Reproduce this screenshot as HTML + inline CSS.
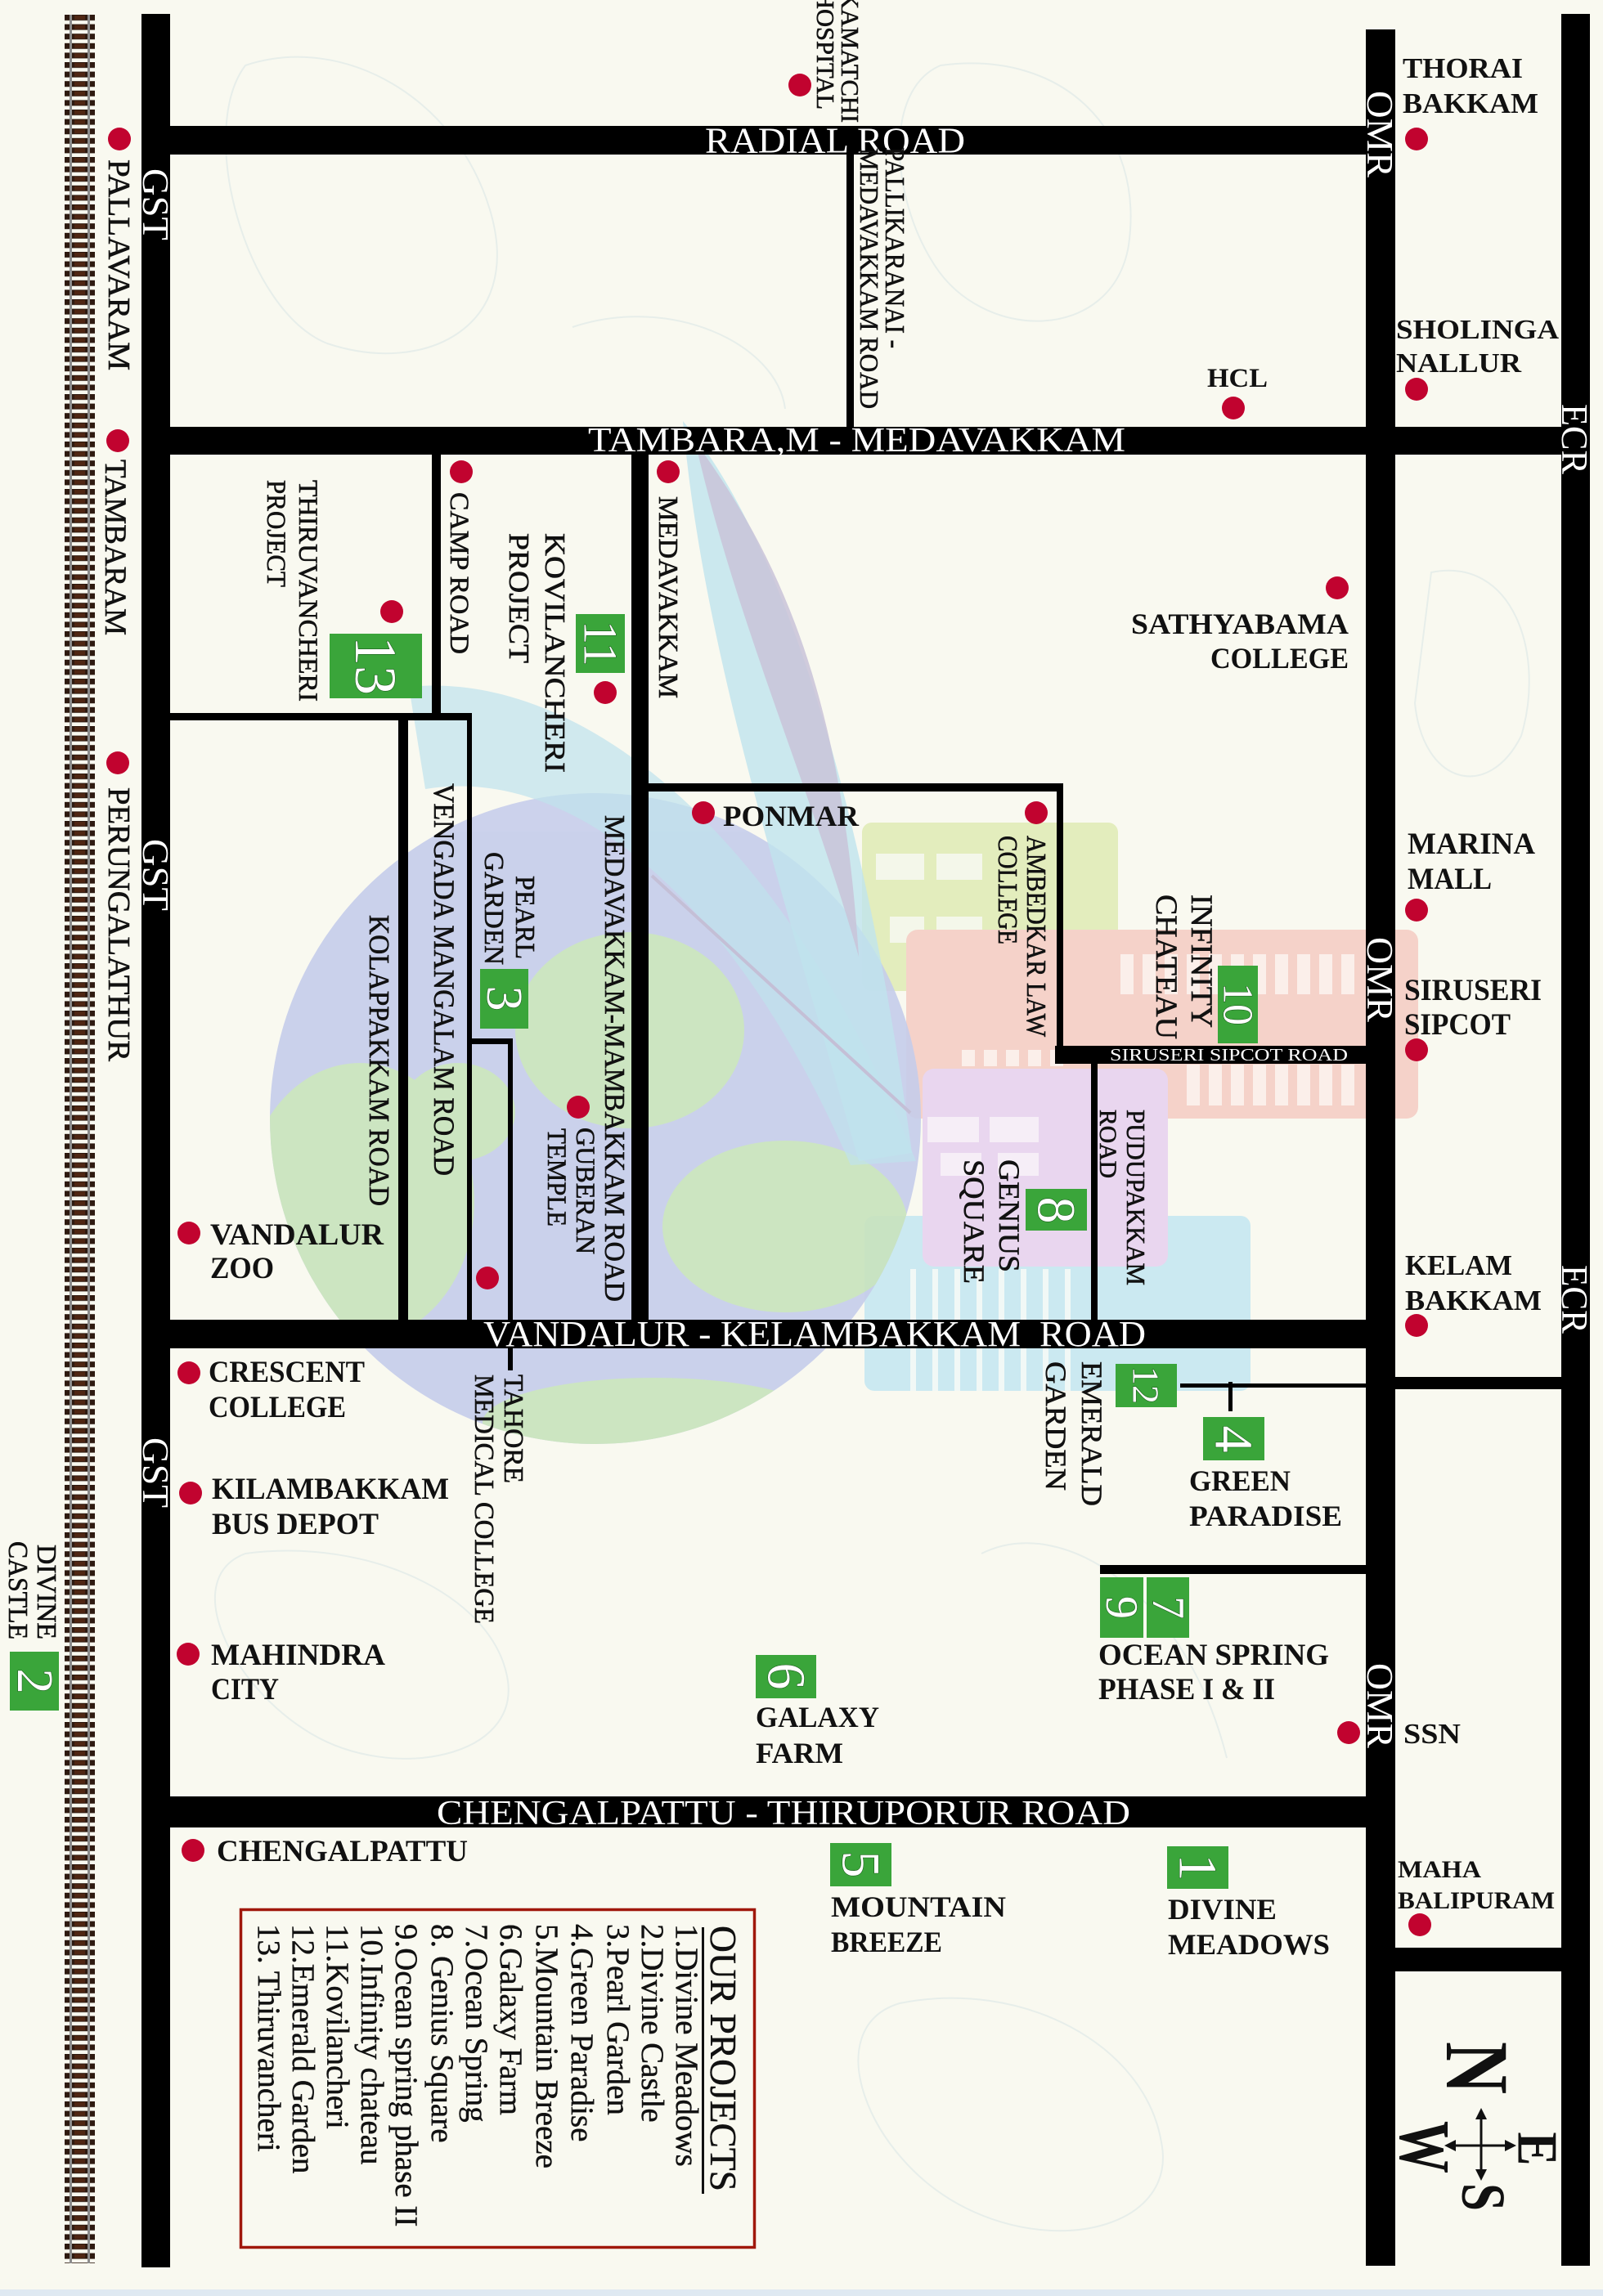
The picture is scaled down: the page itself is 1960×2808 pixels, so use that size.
<!DOCTYPE html>
<html><head><meta charset="utf-8"><style>html,body{margin:0;padding:0;background:#f9f9f0}svg{display:block}</style></head><body>
<svg width="1960" height="2808" viewBox="0 0 1960 2808" xmlns="http://www.w3.org/2000/svg" font-family="'Liberation Serif', serif">
<defs>
<pattern id="ties" x="79" y="18" width="40" height="11.6" patternUnits="userSpaceOnUse"><rect x="0" y="0" width="37" height="7" fill="#2e1a10"/><rect x="12" y="1" width="13" height="5" fill="#4f2613"/></pattern>
<clipPath id="globe"><circle cx="728" cy="1368" r="398"/></clipPath>
</defs>
<rect x="0" y="0" width="1960" height="2808" fill="#f9f9f0"/>
<rect x="0" y="2800" width="1960" height="8" fill="#dfe9f2"/>
<g fill="none" stroke="#e7eeea" stroke-width="2">
<path d="M300 80 C420 40 560 120 600 260 C640 400 520 460 400 420 C300 380 240 160 300 80Z"/>
<path d="M1150 80 C1300 60 1400 160 1380 300 C1360 420 1200 420 1140 320 C1090 240 1080 110 1150 80Z"/>
<path d="M1750 700 C1850 680 1890 800 1860 900 C1820 980 1740 960 1730 860Z"/>
<path d="M300 1900 C450 1880 600 1950 620 2050 C640 2150 480 2180 380 2120 C280 2060 220 1930 300 1900Z"/>
<path d="M1100 2450 C1250 2420 1400 2500 1420 2620 C1440 2720 1300 2760 1180 2700 C1060 2640 1000 2480 1100 2450Z"/>
<path d="M700 400 C820 360 950 420 960 500"/>
<path d="M1200 1900 C1300 1850 1450 1950 1500 2150"/>
</g>
<!-- background logo -->
<g>
<rect x="1054" y="1006" width="313" height="206" rx="12" fill="#e3edbd"/>
<g fill="#f4f7ea"><rect x="1071" y="1044" width="59" height="32"/><rect x="1145" y="1044" width="56" height="32"/><rect x="1088" y="1121" width="42" height="32"/><rect x="1145" y="1121" width="56" height="32"/></g>
<rect x="1108" y="1137" width="626" height="231" rx="14" fill="#f5d2c9"/>
<g fill="#fbefea">
<rect x="1370" y="1167" width="16" height="49"/><rect x="1397" y="1167" width="16" height="49"/><rect x="1424" y="1167" width="16" height="49"/><rect x="1451" y="1167" width="16" height="49"/><rect x="1478" y="1167" width="16" height="49"/><rect x="1505" y="1167" width="16" height="49"/><rect x="1532" y="1167" width="16" height="49"/><rect x="1559" y="1167" width="16" height="49"/><rect x="1586" y="1167" width="16" height="49"/><rect x="1613" y="1167" width="16" height="49"/><rect x="1640" y="1167" width="16" height="49"/>
<rect x="1176" y="1284" width="16" height="20"/><rect x="1203" y="1284" width="16" height="20"/><rect x="1230" y="1284" width="16" height="20"/><rect x="1257" y="1284" width="16" height="20"/><rect x="1284" y="1284" width="16" height="20"/>
<rect x="1451" y="1302" width="16" height="50"/><rect x="1478" y="1302" width="16" height="50"/><rect x="1505" y="1302" width="16" height="50"/><rect x="1532" y="1302" width="16" height="50"/><rect x="1559" y="1302" width="16" height="50"/><rect x="1586" y="1302" width="16" height="50"/><rect x="1613" y="1302" width="16" height="50"/><rect x="1640" y="1302" width="16" height="50"/>
</g>
<rect x="1057" y="1487" width="472" height="214" rx="12" fill="#cbe9f1"/>
<g fill="#f1f8f6"><rect x="1113" y="1552" width="7" height="149"/><rect x="1140" y="1552" width="7" height="149"/><rect x="1167" y="1552" width="7" height="149"/><rect x="1194" y="1552" width="7" height="149"/><rect x="1221" y="1552" width="7" height="149"/><rect x="1248" y="1552" width="7" height="149"/><rect x="1275" y="1552" width="7" height="149"/><rect x="1302" y="1552" width="7" height="149"/></g>
<rect x="1128" y="1307" width="300" height="242" rx="14" fill="#e9d6ef"/>
<g fill="#f6eef7"><rect x="1134" y="1366" width="63" height="31"/><rect x="1210" y="1366" width="60" height="31"/><rect x="1150" y="1410" width="50" height="28"/><rect x="1220" y="1410" width="50" height="28"/></g>
<g opacity="0.9">
<circle cx="728" cy="1368" r="398" fill="#c6cdeb"/>
<g clip-path="url(#globe)" fill="#c8e3bd">
<ellipse cx="440" cy="1470" rx="140" ry="170"/>
<ellipse cx="770" cy="1260" rx="140" ry="120"/>
<ellipse cx="960" cy="1500" rx="150" ry="105"/>
<ellipse cx="800" cy="1740" rx="210" ry="55"/>
<ellipse cx="560" cy="1360" rx="70" ry="60"/>
</g>
</g>
<path d="M500 840 C700 820 950 1000 1120 1420 L1040 1425 C900 1100 700 935 520 965 Z" fill="#bfe3ed" opacity="0.7"/>
<path d="M835 515 C960 660 1060 1000 1115 1410 L1050 1420 C960 1100 860 800 835 515 Z" fill="#bfe3ed" opacity="0.8"/>
<path d="M850 540 C960 690 1030 860 1050 1170 C990 960 900 760 850 540 Z" fill="#c9c3d8" opacity="0.85"/>
<path d="M797 1071 L1113 1361" stroke="#c4bfd6" stroke-width="4" fill="none"/>
</g>
<!-- railway -->
<rect x="79" y="18" width="37" height="2750" fill="url(#ties)"/>
<rect x="85" y="18" width="3" height="2750" fill="#8c8c8c"/>
<rect x="107" y="18" width="3" height="2750" fill="#8c8c8c"/>
<!-- roads -->
<g fill="#000">
<rect x="173" y="17" width="35" height="2756"/>
<rect x="1670" y="36" width="36" height="2735"/>
<rect x="1909" y="17" width="35" height="2754"/>
<rect x="208" y="154" width="1462" height="35"/>
<rect x="208" y="522" width="1701" height="34"/>
<rect x="208" y="1614" width="1462" height="35"/>
<rect x="208" y="2197" width="1462" height="38"/>
<rect x="1035" y="189" width="9" height="333"/>
<rect x="528" y="556" width="11" height="325"/>
<rect x="208" y="872" width="369" height="9"/>
<rect x="487" y="881" width="12" height="733"/>
<rect x="571" y="872" width="6" height="742"/>
<rect x="571" y="1270" width="56" height="7"/>
<rect x="621" y="1270" width="6" height="406"/>
<rect x="772" y="556" width="21" height="1058"/>
<rect x="793" y="958" width="507" height="10"/>
<rect x="1292" y="958" width="8" height="330"/>
<rect x="1290" y="1279" width="380" height="22"/>
<rect x="1334" y="1301" width="8" height="313"/>
<rect x="1706" y="1684" width="203" height="15"/>
<rect x="1443" y="1692" width="227" height="5"/>
<rect x="1502" y="1690" width="5" height="36"/>
<rect x="1345" y="1914" width="325" height="11"/>
<rect x="1706" y="2382" width="203" height="29"/>
</g>
<!-- road labels -->
<g fill="#fff">
<text x="862" y="186.5" font-size="44" textLength="318" lengthAdjust="spacingAndGlyphs">RADIAL ROAD</text>
<text x="719" y="552" font-size="42" textLength="657" lengthAdjust="spacingAndGlyphs">TAMBARA,M - MEDAVAKKAM</text>
<text x="591" y="1646" font-size="44" textLength="810" lengthAdjust="spacingAndGlyphs">VANDALUR - KELAMBAKKAM &#160;ROAD</text>
<text x="534" y="2231" font-size="42" textLength="848" lengthAdjust="spacingAndGlyphs">CHENGALPATTU - THIRUPORUR ROAD</text>
<text x="1357" y="1297" font-size="21" textLength="291" lengthAdjust="spacingAndGlyphs">SIRUSERI SIPCOT ROAD</text>
<text transform="translate(175 206) rotate(90)" font-size="46" textLength="88" lengthAdjust="spacingAndGlyphs">GST</text>
<text transform="translate(175 1026) rotate(90)" font-size="46" textLength="88" lengthAdjust="spacingAndGlyphs">GST</text>
<text transform="translate(175 1758) rotate(90)" font-size="46" textLength="86" lengthAdjust="spacingAndGlyphs">GST</text>
<text transform="translate(1672 111) rotate(90)" font-size="46" textLength="106" lengthAdjust="spacingAndGlyphs">OMR</text>
<text transform="translate(1672 1146) rotate(90)" font-size="46" textLength="104" lengthAdjust="spacingAndGlyphs">OMR</text>
<text transform="translate(1672 2034) rotate(90)" font-size="46" textLength="104" lengthAdjust="spacingAndGlyphs">OMR</text>
<text transform="translate(1910 494) rotate(90)" font-size="45" textLength="86" lengthAdjust="spacingAndGlyphs">ECR</text>
<text transform="translate(1910 1547) rotate(90)" font-size="45" textLength="84" lengthAdjust="spacingAndGlyphs">ECR</text>
</g>
<!-- rotated place labels -->
<g fill="#111" stroke="#111" stroke-width="0.6">
<text transform="translate(133 195) rotate(90)" font-size="38" textLength="258" lengthAdjust="spacingAndGlyphs">PALLAVARAM</text>
<text transform="translate(129 562) rotate(90)" font-size="37" textLength="215" lengthAdjust="spacingAndGlyphs">TAMBARAM</text>
<text transform="translate(133 963) rotate(90)" font-size="38" textLength="335" lengthAdjust="spacingAndGlyphs">PERUNGALATHUR</text>
<text transform="translate(1029 -11) rotate(90)" font-size="31" textLength="161" lengthAdjust="spacingAndGlyphs">KAMATCHI</text>
<text transform="translate(999 -11) rotate(90)" font-size="31" textLength="145" lengthAdjust="spacingAndGlyphs">HOSPITAL</text>
<text transform="translate(1083 180) rotate(90)" font-size="34" textLength="246" lengthAdjust="spacingAndGlyphs">PALLIKARANAI -</text>
<text transform="translate(1052 181) rotate(90)" font-size="32" textLength="319" lengthAdjust="spacingAndGlyphs">MEDAVAKKAM ROAD</text>
<text transform="translate(366 587) rotate(90)" font-size="33" textLength="271" lengthAdjust="spacingAndGlyphs">THIRUVANCHERI</text>
<text transform="translate(327 587) rotate(90)" font-size="33" textLength="131" lengthAdjust="spacingAndGlyphs">PROJECT</text>
<text transform="translate(551 602) rotate(90)" font-size="33" textLength="198" lengthAdjust="spacingAndGlyphs">CAMP ROAD</text>
<text transform="translate(667 652) rotate(90)" font-size="35" textLength="293" lengthAdjust="spacingAndGlyphs">KOVILANCHERI</text>
<text transform="translate(623 652) rotate(90)" font-size="35" textLength="159" lengthAdjust="spacingAndGlyphs">PROJECT</text>
<text transform="translate(806 607) rotate(90)" font-size="34" textLength="247" lengthAdjust="spacingAndGlyphs">MEDAVAKKAM</text>
<text transform="translate(531 958) rotate(90)" font-size="36" textLength="480" lengthAdjust="spacingAndGlyphs">VENGADA MANGALAM ROAD</text>
<text transform="translate(452 1119) rotate(90)" font-size="35" textLength="356" lengthAdjust="spacingAndGlyphs">KOLAPPAKKAM ROAD</text>
<text transform="translate(631 1071) rotate(90)" font-size="34" textLength="102" lengthAdjust="spacingAndGlyphs">PEARL</text>
<text transform="translate(593 1042) rotate(90)" font-size="34" textLength="138" lengthAdjust="spacingAndGlyphs">GARDEN</text>
<text transform="translate(740 997) rotate(90)" font-size="35" textLength="595" lengthAdjust="spacingAndGlyphs">MEDAVAKKAM-MAMBAKKAM ROAD</text>
<text transform="translate(705 1379) rotate(90)" font-size="33" textLength="155" lengthAdjust="spacingAndGlyphs">GUBERAN</text>
<text transform="translate(670 1380) rotate(90)" font-size="33" textLength="120" lengthAdjust="spacingAndGlyphs">TEMPLE</text>
<text transform="translate(1256 1022) rotate(90)" font-size="34" textLength="246" lengthAdjust="spacingAndGlyphs">AMBEDKAR LAW</text>
<text transform="translate(1221 1022) rotate(90)" font-size="34" textLength="133" lengthAdjust="spacingAndGlyphs">COLLEGE</text>
<text transform="translate(1457 1094) rotate(90)" font-size="37" textLength="163" lengthAdjust="spacingAndGlyphs">INFINITY</text>
<text transform="translate(1414 1094) rotate(90)" font-size="37" textLength="177" lengthAdjust="spacingAndGlyphs">CHATEAU</text>
<text transform="translate(1378 1357) rotate(90)" font-size="32" textLength="215" lengthAdjust="spacingAndGlyphs">PUDUPAKKAM</text>
<text transform="translate(1345 1357) rotate(90)" font-size="30" textLength="84" lengthAdjust="spacingAndGlyphs">ROAD</text>
<text transform="translate(1222 1418) rotate(90)" font-size="36" textLength="138" lengthAdjust="spacingAndGlyphs">GENIUS</text>
<text transform="translate(1179 1418) rotate(90)" font-size="36" textLength="152" lengthAdjust="spacingAndGlyphs">SQUARE</text>
<text transform="translate(1323 1665) rotate(90)" font-size="36" textLength="177" lengthAdjust="spacingAndGlyphs">EMERALD</text>
<text transform="translate(1279 1665) rotate(90)" font-size="36" textLength="158" lengthAdjust="spacingAndGlyphs">GARDEN</text>
<text transform="translate(617 1681) rotate(90)" font-size="34" textLength="133" lengthAdjust="spacingAndGlyphs">TAHORE</text>
<text transform="translate(581 1681) rotate(90)" font-size="34" textLength="305" lengthAdjust="spacingAndGlyphs">MEDICAL COLLEGE</text>
<text transform="translate(46 1889) rotate(90)" font-size="34" textLength="116" lengthAdjust="spacingAndGlyphs">DIVINE</text>
<text transform="translate(11 1885) rotate(90)" font-size="34" textLength="120" lengthAdjust="spacingAndGlyphs">CASTLE</text>
</g>
<!-- horizontal place labels -->
<g fill="#111" font-weight="bold">
<text x="1715" y="95" font-size="35" textLength="147" lengthAdjust="spacingAndGlyphs">THORAI</text>
<text x="1715" y="138" font-size="35" textLength="166" lengthAdjust="spacingAndGlyphs">BAKKAM</text>
<text x="1707" y="414" font-size="34" textLength="199" lengthAdjust="spacingAndGlyphs">SHOLINGA</text>
<text x="1707" y="455" font-size="34" textLength="153" lengthAdjust="spacingAndGlyphs">NALLUR</text>
<text x="1476" y="473" font-size="33" textLength="74" lengthAdjust="spacingAndGlyphs">HCL</text>
<text x="1383" y="775" font-size="36" textLength="266" lengthAdjust="spacingAndGlyphs">SATHYABAMA</text>
<text x="1480" y="817" font-size="36" textLength="169" lengthAdjust="spacingAndGlyphs">COLLEGE</text>
<text x="1721" y="1044" font-size="37" textLength="156" lengthAdjust="spacingAndGlyphs">MARINA</text>
<text x="1721" y="1087" font-size="37" textLength="103" lengthAdjust="spacingAndGlyphs">MALL</text>
<text x="1717" y="1223" font-size="37" textLength="168" lengthAdjust="spacingAndGlyphs">SIRUSERI</text>
<text x="1717" y="1265" font-size="37" textLength="130" lengthAdjust="spacingAndGlyphs">SIPCOT</text>
<text x="884" y="1010" font-size="36" textLength="166" lengthAdjust="spacingAndGlyphs">PONMAR</text>
<text x="257" y="1522" font-size="37" textLength="212" lengthAdjust="spacingAndGlyphs">VANDALUR</text>
<text x="257" y="1563" font-size="37" textLength="78" lengthAdjust="spacingAndGlyphs">ZOO</text>
<text x="255" y="1690" font-size="37" textLength="191" lengthAdjust="spacingAndGlyphs">CRESCENT</text>
<text x="255" y="1733" font-size="37" textLength="168" lengthAdjust="spacingAndGlyphs">COLLEGE</text>
<text x="259" y="1833" font-size="37" textLength="290" lengthAdjust="spacingAndGlyphs">KILAMBAKKAM</text>
<text x="259" y="1876" font-size="37" textLength="204" lengthAdjust="spacingAndGlyphs">BUS DEPOT</text>
<text x="258" y="2036" font-size="37" textLength="213" lengthAdjust="spacingAndGlyphs">MAHINDRA</text>
<text x="258" y="2078" font-size="37" textLength="83" lengthAdjust="spacingAndGlyphs">CITY</text>
<text x="1718" y="1559" font-size="35" textLength="131" lengthAdjust="spacingAndGlyphs">KELAM</text>
<text x="1718" y="1602" font-size="35" textLength="167" lengthAdjust="spacingAndGlyphs">BAKKAM</text>
<text x="1454" y="1823" font-size="36" textLength="124" lengthAdjust="spacingAndGlyphs">GREEN</text>
<text x="1454" y="1866" font-size="36" textLength="187" lengthAdjust="spacingAndGlyphs">PARADISE</text>
<text x="1343" y="2036" font-size="37" textLength="282" lengthAdjust="spacingAndGlyphs">OCEAN SPRING</text>
<text x="1343" y="2078" font-size="37" textLength="216" lengthAdjust="spacingAndGlyphs">PHASE I &amp; II</text>
<text x="924" y="2112" font-size="36" textLength="151" lengthAdjust="spacingAndGlyphs">GALAXY</text>
<text x="924" y="2156" font-size="36" textLength="107" lengthAdjust="spacingAndGlyphs">FARM</text>
<text x="1716" y="2132" font-size="35" textLength="70" lengthAdjust="spacingAndGlyphs">SSN</text>
<text x="265" y="2276" font-size="37" textLength="307" lengthAdjust="spacingAndGlyphs">CHENGALPATTU</text>
<text x="1016" y="2344" font-size="36" textLength="214" lengthAdjust="spacingAndGlyphs">MOUNTAIN</text>
<text x="1016" y="2387" font-size="36" textLength="136" lengthAdjust="spacingAndGlyphs">BREEZE</text>
<text x="1428" y="2347" font-size="36" textLength="133" lengthAdjust="spacingAndGlyphs">DIVINE</text>
<text x="1428" y="2390" font-size="36" textLength="198" lengthAdjust="spacingAndGlyphs">MEADOWS</text>
<text x="1709" y="2296" font-size="30" textLength="102" lengthAdjust="spacingAndGlyphs">MAHA</text>
<text x="1709" y="2334" font-size="30" textLength="192" lengthAdjust="spacingAndGlyphs">BALIPURAM</text>
</g>
<!-- dots -->
<g fill="#c1032f">
<circle cx="146" cy="170" r="14"/><circle cx="144" cy="539" r="14"/><circle cx="144" cy="933" r="14"/>
<circle cx="978" cy="104" r="14"/><circle cx="1732" cy="170" r="14"/><circle cx="1732" cy="476" r="14"/>
<circle cx="1508" cy="499" r="14"/><circle cx="564" cy="577" r="14"/><circle cx="817" cy="577" r="14"/>
<circle cx="479" cy="748" r="14"/><circle cx="1635" cy="719" r="14"/><circle cx="740" cy="847" r="14"/>
<circle cx="860" cy="994" r="14"/><circle cx="1267" cy="994" r="14"/><circle cx="1732" cy="1113" r="14"/>
<circle cx="1732" cy="1284" r="14"/><circle cx="707" cy="1354" r="14"/><circle cx="231" cy="1508" r="14"/>
<circle cx="596" cy="1563" r="14"/><circle cx="1732" cy="1621" r="14"/><circle cx="231" cy="1679" r="14"/>
<circle cx="233" cy="1826" r="14"/><circle cx="230" cy="2023" r="14"/><circle cx="1649" cy="2119" r="14"/>
<circle cx="236" cy="2263" r="14"/><circle cx="1736" cy="2354" r="14"/>
</g>
<!-- project boxes -->
<g fill="#3aa53a">
<rect x="1427" y="2258" width="75" height="52"/>
<rect x="12" y="2020" width="60" height="72"/>
<rect x="587" y="1185" width="59" height="73"/>
<rect x="1471" y="1733" width="75" height="53"/>
<rect x="1015" y="2254" width="75" height="53"/>
<rect x="924" y="2024" width="74" height="53"/>
<rect x="1402" y="1929" width="52" height="74"/>
<rect x="1254" y="1454" width="75" height="51"/>
<rect x="1345" y="1929" width="53" height="74"/>
<rect x="1489" y="1181" width="49" height="95"/>
<rect x="704" y="751" width="60" height="72"/>
<rect x="1364" y="1668" width="75" height="53"/>
<rect x="403" y="775" width="113" height="79"/>
</g>
<g fill="#fff" stroke="#1f5f20" stroke-width="1.2" paint-order="stroke" text-anchor="middle" dominant-baseline="central">
<text transform="translate(1464 2284) rotate(90)" font-size="66">1</text>
<text transform="translate(42 2056) rotate(90)" font-size="62">2</text>
<text transform="translate(616 1221) rotate(90)" font-size="62">3</text>
<text transform="translate(1508 1760) rotate(90)" font-size="66">4</text>
<text transform="translate(1052 2280) rotate(90)" font-size="66">5</text>
<text transform="translate(961 2050) rotate(90)" font-size="66">6</text>
<text transform="translate(1428 1966) rotate(90)" font-size="56">7</text>
<text transform="translate(1291 1480) rotate(90)" font-size="66">8</text>
<text transform="translate(1371 1966) rotate(90)" font-size="56">9</text>
<text transform="translate(1513 1228) rotate(90)" font-size="52">10</text>
<text transform="translate(734 787) rotate(90)" font-size="58">11</text>
<text transform="translate(1401 1694) rotate(90)" font-size="46">12</text>
<text transform="translate(459 814) rotate(90)" font-size="72">13</text>
</g>
<!-- legend -->
<rect x="294.5" y="2335.5" width="628" height="413" fill="none" stroke="#a0180c" stroke-width="3.5"/>
<text transform="translate(869 2355) rotate(90)" font-size="46" fill="#111" stroke="#111" stroke-width="0.5" textLength="325" lengthAdjust="spacingAndGlyphs">OUR PROJECTS</text>
<rect x="858" y="2357" width="3" height="326" fill="#111"/>
<g fill="#111" font-size="39" stroke="#111" stroke-width="0.4">
<text transform="translate(827 2353) rotate(90)">1.Divine Meadows</text>
<text transform="translate(785 2353) rotate(90)">2.Divine Castle</text>
<text transform="translate(743 2353) rotate(90)">3.Pearl Garden</text>
<text transform="translate(699 2353) rotate(90)">4.Green Paradise</text>
<text transform="translate(656 2353) rotate(90)">5.Mountain Breeze</text>
<text transform="translate(612 2353) rotate(90)">6.Galaxy Farm</text>
<text transform="translate(570 2353) rotate(90)">7.Ocean Spring</text>
<text transform="translate(528 2353) rotate(90)">8. Genius Square</text>
<text transform="translate(484 2353) rotate(90)">9.Ocean spring phase II</text>
<text transform="translate(442 2353) rotate(90)">10.Infinity chateau</text>
<text transform="translate(400 2353) rotate(90)">11.Kovilancheri</text>
<text transform="translate(358 2353) rotate(90)">12.Emerald Garden</text>
<text transform="translate(316 2353) rotate(90)">13. Thiruvancheri</text>
</g>
<!-- compass -->
<g stroke="#111" stroke-width="3" fill="none">
<line x1="1772" y1="2624" x2="1848" y2="2624"/>
<line x1="1811" y1="2584" x2="1811" y2="2661"/>
</g>
<g fill="#111">
<polygon points="1766,2624 1780,2617 1780,2631"/>
<polygon points="1854,2624 1840,2617 1840,2631"/>
<polygon points="1811,2578 1804,2592 1818,2592"/>
<polygon points="1811,2667 1804,2653 1818,2653"/>
</g>
<g fill="#111" font-weight="bold" text-anchor="middle" dominant-baseline="central">
<text transform="translate(1806 2529) rotate(90)" font-size="110" textLength="64" lengthAdjust="spacingAndGlyphs">N</text>
<text transform="translate(1879 2628) rotate(90)" font-size="70" textLength="41" lengthAdjust="spacingAndGlyphs">E</text>
<text transform="translate(1741 2626) rotate(90)" font-size="88" textLength="64" lengthAdjust="spacingAndGlyphs">W</text>
<text transform="translate(1813 2687) rotate(90)" font-size="76" textLength="34" lengthAdjust="spacingAndGlyphs">S</text>
</g>
</svg>
</body></html>
